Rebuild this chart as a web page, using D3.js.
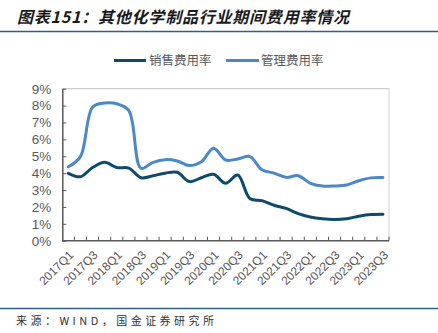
<!DOCTYPE html>
<html><head><meta charset="utf-8">
<script src="https://cdn.jsdelivr.net/npm/d3@7"></script>
<style>
body{margin:0;background:#fff;}
svg{display:block;}
</style></head>
<body>
<svg id="c" width="438" height="333"></svg>
<script>
const categories = ["2017Q1","2017Q2","2017Q3","2017Q4","2018Q1","2018Q2","2018Q3","2018Q4","2019Q1","2019Q2","2019Q3","2019Q4","2020Q1","2020Q2","2020Q3","2020Q4","2021Q1","2021Q2","2021Q3","2021Q4","2022Q1","2022Q2","2022Q3","2022Q4","2023Q1","2023Q2","2023Q3"];
const sales = [3.99,3.79,4.33,4.64,4.33,4.3,3.73,3.85,4.0,4.05,3.5,3.73,3.93,3.4,3.89,2.5,2.37,2.1,1.91,1.6,1.4,1.3,1.26,1.3,1.45,1.55,1.57];
const admin = [4.38,4.98,7.9,8.15,8.11,7.7,4.29,4.64,4.8,4.72,4.45,4.68,5.48,4.78,4.84,4.98,4.2,4.0,3.75,3.85,3.4,3.24,3.24,3.3,3.55,3.72,3.74];
const yTicks = [0,1,2,3,4,5,6,7,8,9];
const seriesNames = ["销售费用率","管理费用率"];
const colors = ["#0d4a6b","#4a88c9"];

const svg = d3.select("#c");
const W = 438, H = 333;
const m = {left:62.3, right:49, top:88.7, bottom:92.3};
const x0 = m.left, x1 = W - m.right, y0 = m.top, y1 = H - m.bottom;

// title
svg.append("text").attr("x",17).attr("y",23)
  .attr("font-family","'Noto Sans CJK SC', sans-serif").attr("font-size",16)
  .attr("font-style","italic").attr("font-weight","bold").attr("fill","#1a1a1a")
  .attr("textLength",332).attr("lengthAdjust","spacing")
  .text("图表151：其他化学制品行业期间费用率情况");
svg.append("line").attr("x1",0).attr("x2",W).attr("y1",31.5).attr("y2",31.5)
  .attr("stroke","#2f5f86").attr("stroke-width",1.3);

const x = d3.scaleBand().domain(categories).range([x0,x1]);
const y = d3.scaleLinear().domain([0,9]).range([y1,y0]);

// frame top & right
svg.append("line").attr("x1",x0).attr("x2",x1).attr("y1",y(9)).attr("y2",y(9)).attr("stroke","#c0c0c0").attr("stroke-width",1);
svg.append("line").attr("x1",x1).attr("x2",x1).attr("y1",y(9)).attr("y2",y1).attr("stroke","#d0d0d0").attr("stroke-width",1);

// y axis
const ya = svg.append("g").attr("transform",`translate(${x0},0)`)
  .call(d3.axisLeft(y).tickValues(yTicks).tickFormat(d=>d+"%").tickSizeInner(-4).tickSizeOuter(0).tickPadding(11));
ya.select(".domain").attr("stroke","#595959").attr("stroke-width",1.5);
ya.selectAll(".tick line").attr("stroke","#595959").attr("stroke-width",1);
ya.selectAll("text").attr("font-family","'Liberation Sans', Arial, sans-serif").attr("font-size",13.5).attr("fill","#595959");

// x axis
const xa = svg.append("g").attr("transform",`translate(0,${y1})`);
xa.append("line").attr("x1",x0).attr("x2",x1).attr("y1",0).attr("y2",0).attr("stroke","#595959").attr("stroke-width",1.5);
xa.selectAll("line.t").data(categories).join("line").attr("class","t")
  .attr("x1",d=>x(d)+x.bandwidth()).attr("x2",d=>x(d)+x.bandwidth()).attr("y1",0).attr("y2",-4)
  .attr("stroke","#595959").attr("stroke-width",1);
xa.selectAll("text").data(categories.filter((d,i)=>i%2===0)).join("text")
  .attr("transform",d=>`translate(${x(d)+x.bandwidth()/2+3},${12}) rotate(-45)`)
  .attr("text-anchor","end").attr("dy","0.35em")
  .attr("font-family","'Liberation Sans', Arial, sans-serif").attr("font-size",12).attr("fill","#595959")
  .text(d=>d);

// lines
const line = d3.line().x((d,i)=>x(categories[i])+x.bandwidth()/2).y(d=>y(d)).curve(d3.curveCatmullRom.alpha(0.5));
[sales, admin].forEach((s,k)=>{
  svg.append("path").datum(s).attr("d",line).attr("fill","none")
    .attr("stroke",colors[k]).attr("stroke-width",3).attr("stroke-linejoin","round").attr("stroke-linecap","round");
});

// legend
const lg = [{x1:114,x2:146,tx:149},{x1:226,x2:259,tx:261}];
lg.forEach((l,k)=>{
  svg.append("line").attr("x1",l.x1).attr("x2",l.x2).attr("y1",60.5).attr("y2",60.5).attr("stroke",colors[k]).attr("stroke-width",3);
  svg.append("text").attr("x",l.tx).attr("y",65).attr("font-family","'Noto Sans CJK SC', sans-serif")
    .attr("font-size",12.5).attr("fill","#595959").text(seriesNames[k]);
});

// footer
svg.append("line").attr("x1",0).attr("x2",W).attr("y1",308.5).attr("y2",308.5).attr("stroke","#2f5f86").attr("stroke-width",1.3);
svg.append("text").attr("x",16).attr("y",325).attr("font-family","'Noto Sans CJK SC', sans-serif")
  .attr("font-size",11).attr("fill","#333")
  .attr("textLength",198).attr("lengthAdjust","spacing")
  .text("来源：WIND，国金证券研究所");
</script>
</body></html>
